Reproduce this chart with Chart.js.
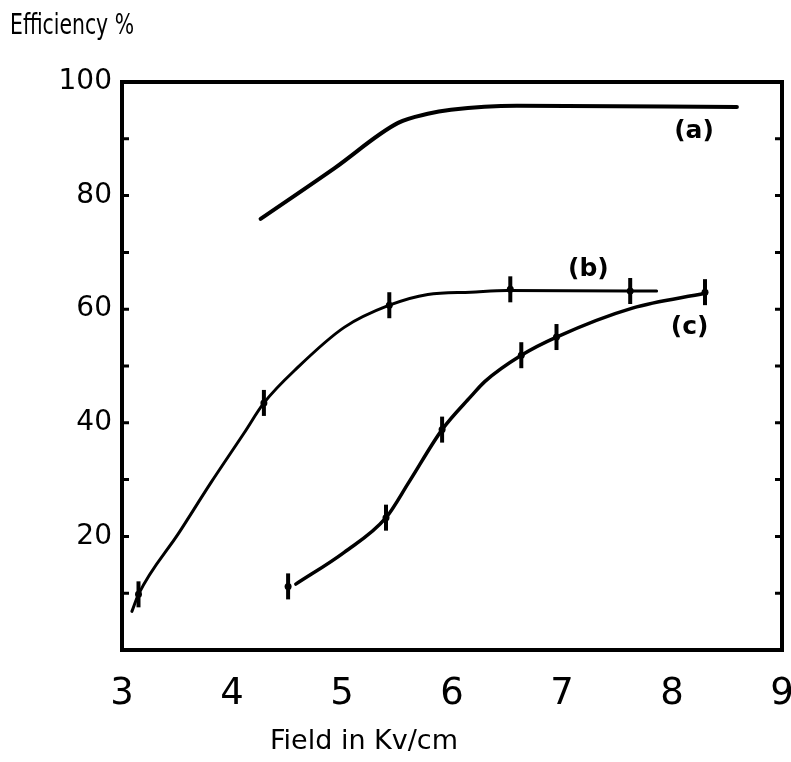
<!DOCTYPE html>
<html>
<head>
<meta charset="utf-8">
<script src="https://cdn.jsdelivr.net/npm/chart.js@4.4.0/dist/chart.umd.min.js"></script>
<style>
  body { margin: 0; background: #fff; overflow: hidden; }
  #wrap { width: 791px; height: 762px; position: relative; }
</style>
</head>
<body>
<div id="wrap"><canvas id="chart"></canvas></div>
<script>
// x ticks and y tick labels
var xTicks = [3, 4, 5, 6, 7, 8, 9]
var yLabels = [20, 40, 60, 80, 100]

// curve (a)
var aX = [4.26, 4.93, 5.51, 5.78, 5.99, 6.59, 8.59]
var aY = [75.9, 84.8, 92.8, 94.4, 95.1, 95.8, 95.6]

// curve (b) and its measured points
var bX = [3.09, 3.15, 3.52, 3.81, 4.11, 4.29, 4.6, 5.02, 5.43, 5.78, 6.17, 6.5, 7.62, 7.86]
var bY = [6.8, 9.8, 20.7, 29.5, 38.2, 43.5, 49.8, 56.8, 60.7, 62.6, 63.0, 63.3, 63.2, 63.2]
var bPtsX = [3.15, 4.29, 5.43, 6.53, 7.62]
var bPtsY = [9.8, 43.5, 60.7, 63.5, 63.2]

// curve (c) and its measured points
var cX = [4.58, 5.02, 5.40, 5.61, 5.91, 6.17, 6.30, 6.63, 6.95, 7.64, 8.30]
var cY = [11.6, 17.2, 23.3, 29.6, 38.8, 44.6, 47.3, 51.9, 55.1, 60.2, 62.8]
var cPtsX = [4.51, 5.40, 5.91, 6.63, 6.95, 8.30]
var cPtsY = [11.2, 23.3, 38.8, 51.9, 55.1, 63.0]

function pts(xs, ys) {
    return xs.map((x, i) => ({x: x, y: ys[i]}))
}

function curve(xs, ys, w) {
    return {
        data: pts(xs, ys),
        borderColor: '#000',
        borderWidth: w,
        borderCapStyle: 'round',
        borderJoinStyle: 'round',
        pointRadius: 0,
        cubicInterpolationMode: 'monotone',
        fill: false
    }
}

// vertical error bar with a small blob in the middle
function marks(xs, ys) {
    return {
        data: pts(xs, ys),
        showLine: false,
        pointStyle: 'line',
        rotation: 90,
        pointRadius: 13,
        pointBorderWidth: 4,
        pointBorderColor: '#000'
    }
}
function blobs(xs, ys) {
    return {
        data: pts(xs, ys),
        showLine: false,
        pointStyle: 'circle',
        pointRadius: 3.5,
        pointBorderWidth: 0,
        pointBackgroundColor: '#000'
    }
}

// draws text squeezed to a given width
function squeezed(ctx, text, x, y, w) {
    var m = ctx.measureText(text).width
    ctx.save()
    ctx.translate(x, y)
    ctx.scale(w / m, 1)
    ctx.fillText(text, 0, 0)
    ctx.restore()
}

var frame = {
    id: 'frame',
    afterDraw(chart) {
        var ctx = chart.ctx
        var a = chart.chartArea
        var ys = chart.scales.y
        var xs = chart.scales.x
        ctx.save()
        ctx.strokeStyle = '#000'
        ctx.lineWidth = 4
        ctx.strokeRect(a.left, a.top, a.right - a.left, a.bottom - a.top)
        ctx.lineWidth = 3
        for (let t of ys.ticks) {
            if (t.value <= 0 || t.value >= 100) continue
            let py = ys.getPixelForValue(t.value)
            ctx.beginPath()
            ctx.moveTo(a.left, py); ctx.lineTo(a.left + 7, py)
            ctx.moveTo(a.right, py); ctx.lineTo(a.right - 7, py)
            ctx.stroke()
        }
        ctx.fillStyle = '#000'
        ctx.textBaseline = 'middle'
        ctx.font = '29px "DejaVu Sans"'
        ctx.textAlign = 'left'
        squeezed(ctx, 'Efficiency %', 10, 26, 124)
        ctx.font = '27px "DejaVu Sans"'
        ctx.textAlign = 'center'
        ctx.fillText('Field in Kv/cm', 364, 742)
        ctx.font = 'bold 25px "DejaVu Sans"'
        ctx.fillText('(a)', xs.getPixelForValue(8.2), ys.getPixelForValue(91.2))
        ctx.fillText('(b)', xs.getPixelForValue(7.24), ys.getPixelForValue(67))
        ctx.fillText('(c)', xs.getPixelForValue(8.16), ys.getPixelForValue(56.7))
        ctx.restore()
    }
}

new Chart(document.getElementById('chart'), {
    type: 'line',
    data: {
        datasets: [
            curve(aX, aY, 4),
            curve(bX, bY, 3),
            marks(bPtsX, bPtsY),
            blobs(bPtsX, bPtsY),
            curve(cX, cY, 3.5),
            marks(cPtsX, cPtsY),
            blobs(cPtsX, cPtsY)
        ]
    },
    options: {
        responsive: true,
        maintainAspectRatio: false,
        animation: false,
        layout: { autoPadding: false, padding: { left: 0, right: 9, top: 82, bottom: 0 } },
        plugins: { legend: { display: false }, tooltip: { enabled: false } },
        scales: {
            x: {
                type: 'linear',
                min: 3, max: 9,
                afterFit: s => { s.height = 112; s.paddingLeft = 0; s.paddingRight = 0 },
                afterBuildTicks: s => { s.ticks = xTicks.map(v => ({value: v})) },
                grid: { display: false },
                border: { display: false },
                ticks: { color: '#000', padding: 14, font: { family: 'DejaVu Sans', size: 37 } }
            },
            y: {
                min: 0, max: 100,
                afterFit: s => { s.width = 122; s.paddingTop = 0; s.paddingBottom = 0 },
                ticks: {
                    stepSize: 10,
                    color: '#000',
                    padding: 2,
                    font: { family: 'DejaVu Sans', size: 28 },
                    callback: v => yLabels.includes(v) ? v : ''
                },
                grid: { display: false },
                border: { display: false }
            }
        }
    },
    plugins: [frame]
})
</script>
</body>
</html>
